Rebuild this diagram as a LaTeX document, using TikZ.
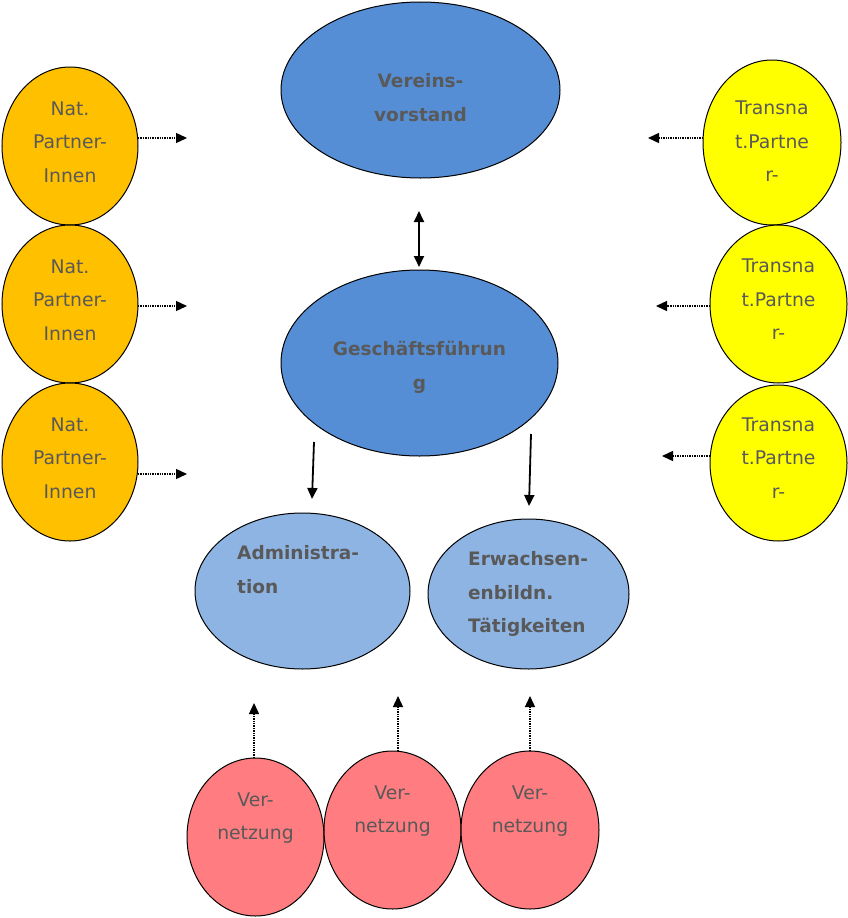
\documentclass[tikz,border=0pt]{standalone}
\usepackage{fontspec}
\setmainfont{DejaVu Sans}
\usepackage{tikz}
\usetikzlibrary{shapes.geometric,arrows.meta}
\usetikzlibrary{positioning}
\definecolor{txtgray}{HTML}{595959}
\definecolor{darkblue}{HTML}{558ED5}
\definecolor{lightblue}{HTML}{8EB4E3}
\definecolor{natorange}{HTML}{FFC000}
\definecolor{transyellow}{HTML}{FFFF00}
\definecolor{vernpink}{HTML}{FF7C80}
\tikzset{>={Triangle[length=11pt,width=10pt]}, font=\fontsize{18.8}{33.5}\selectfont}
\tikzstyle{blob} = [draw, ellipse, line width=1pt, inner sep=0pt, outer sep=0pt]
\tikzstyle{txt} = [text=txtgray, inner sep=0pt, align=center]
\tikzstyle{boldtxt} = [txt, font=\fontsize{18.5}{33.5}\selectfont\bfseries]
\tikzstyle{solidarr} = [->, line width=1.8pt]
\tikzstyle{dotarr} = [->, line width=1.4pt, dash pattern=on 1.4pt off 1pt]
\tikzstyle{input} = [coordinate]

\begin{document}
\begin{tikzpicture}[x=1pt, y=-1pt]
		\useasboundingbox (0,0) rectangle (848,918);

		% center
		\node [blob, fill=darkblue, minimum width=279pt, minimum height=176pt] (vorstand) at (420.5,90) {};
		\node [blob, fill=darkblue, minimum width=277pt, minimum height=186pt] (gf) at (419.5,363) {};
		\node [blob, fill=lightblue, minimum width=215pt, minimum height=156pt] (admin) at (302.5,591) {};
		\node [blob, fill=lightblue, minimum width=201pt, minimum height=150pt] (ewb) at (528.5,594) {};

		% left
		\node [blob, fill=natorange, minimum width=136pt, minimum height=158pt] (nat_a) at (70,146) {};
		\node [blob, fill=natorange, minimum width=136pt, minimum height=158pt, below=0pt of nat_a] (nat_b) {};
		\node [blob, fill=natorange, minimum width=136pt, minimum height=158pt, below=0pt of nat_b] (nat_c) {};

		% right
		\node [blob, fill=transyellow, minimum width=138pt, minimum height=165pt] (trans_a) at (772,142.5) {};
		\node [blob, fill=transyellow, minimum width=137pt, minimum height=158pt] (trans_b) at (778.5,304) {};
		\node [blob, fill=transyellow, minimum width=137pt, minimum height=156pt] (trans_c) at (778.5,463) {};

		% bottom
		\node [blob, fill=vernpink, minimum width=137pt, minimum height=158pt] (vern_a) at (255.5,837) {};
		\node [blob, fill=vernpink, minimum width=137pt, minimum height=158pt] (vern_b) at (392.5,830) {};
		\node [blob, fill=vernpink, minimum width=138pt, minimum height=158pt] (vern_c) at (530,830) {};

		% texts
		\node [boldtxt] (vorstand_t) at ([yshift=-7.5pt]vorstand.center) {Vereins-\\vorstand};
		\node [boldtxt] (gf_t) at ([yshift=-4.5pt]gf.center) {Geschäftsführun\\g};
		\node [boldtxt, align=left, anchor=west] (admin_t) at (237,569.5) {Administra-\\tion};
		\node [boldtxt, align=left, anchor=west] (ewb_t) at (468,594) {Erwachsen-\\enbildn.\\Tätigkeiten};
		\foreach \n in {nat_a,nat_b,nat_c}
			\node [txt] (\n_t) at ([yshift=4pt]\n.center) {Nat.\\Partner-\\Innen};
		\node [txt] (trans_a_t) at ([yshift=1pt]trans_a.center) {Transna\\t.Partne\\r-};
		\node [txt] (trans_b_t) at ([yshift=4.5pt]trans_b.center) {Transna\\t.Partne\\r-};
		\node [txt] (trans_c_t) at ([yshift=5pt]trans_c.center) {Transna\\t.Partne\\r-};
		\node [txt] (vern_a_t) at ([yshift=19pt]vern_a.center) {Ver-\\netzung};
		\node [txt] (vern_b_t) at ([yshift=19pt]vern_b.center) {Ver-\\netzung};
		\node [txt] (vern_c_t) at ([yshift=19pt]vern_c.center) {Ver-\\netzung};

		% free ends
		\node [input] (nat_a_o) at (187,138) {};
		\node [input] (nat_b_o) at (187,306) {};
		\node [input] (nat_c_o) at (187,474) {};
		\node [input] (trans_a_o) at (648,138) {};
		\node [input] (trans_b_o) at (656,306) {};
		\node [input] (trans_c_o) at (662,456) {};
		\node [input] (vern_a_o) at (254,703) {};
		\node [input] (vern_b_o) at (398,696) {};
		\node [input] (vern_c_o) at (530,696) {};
		\node [input] (vs_in) at (419,211) {};
		\node [input] (gf_in) at (419,267) {};
		\node [input] (admin_s) at (314,442) {};
		\node [input] (admin_in) at (312,499) {};
		\node [input] (ewb_s) at (531,434) {};
		\node [input] (ewb_in) at (529,506) {};

		\draw [solidarr, <->] (vs_in) -- (gf_in);
		\draw [solidarr] (admin_s) -- (admin_in);
		\draw [solidarr] (ewb_s) -- (ewb_in);

		\draw [dotarr] (nat_a.east |- nat_a_o) -- (nat_a_o);
		\draw [dotarr] (nat_b.east |- nat_b_o) -- (nat_b_o);
		\draw [dotarr] (nat_c.east |- nat_c_o) -- (nat_c_o);

		\draw [dotarr] (trans_a.west |- trans_a_o) -- (trans_a_o);
		\draw [dotarr] (trans_b.west |- trans_b_o) -- (trans_b_o);
		\draw [dotarr] (trans_c.west |- trans_c_o) -- (trans_c_o);

		\draw [dotarr] (vern_a_o |- vern_a.north) -- (vern_a_o);
		\draw [dotarr] (vern_b_o |- vern_b.north) -- (vern_b_o);
		\draw [dotarr] (vern_c_o |- vern_c.north) -- (vern_c_o);
	\end{tikzpicture}
\end{document}
